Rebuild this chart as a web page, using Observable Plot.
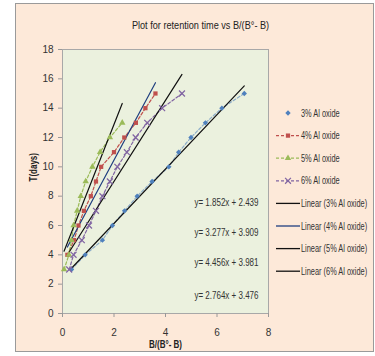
<!DOCTYPE html>
<html><head><meta charset="utf-8">
<script src="https://cdn.jsdelivr.net/npm/d3@7"></script>
<script src="https://cdn.jsdelivr.net/npm/@observablehq/plot@0.6"></script>
<style>
html,body{margin:0;padding:0;background:#fff;}
#wrap{position:relative;width:375px;height:356px;overflow:hidden;font-family:"Liberation Sans",Arial,sans-serif;}
#frame{position:absolute;left:15px;top:3px;width:357px;height:347px;background:#fde9d9;border:1px solid #9a9a9a;}
#chart{position:absolute;left:0;top:0;}
#legend{position:absolute;left:0;top:0;}
</style></head><body>
<div id="wrap"><div id="frame"></div><div id="chart"></div><svg id="legend" width="375" height="356"></svg></div>
<script>
// ---- data ----
const title = "Plot for retention time vs B/(B°- B)";
const xLabel = "B/(B°- B)";
const yLabel = "T(days)";
const seriesNames = ["3% Al oxide", "4% Al oxide", "5% Al oxide", "6% Al oxide"];
const x3 = [0.35, 0.88, 1.55, 1.94, 2.41, 2.90, 3.48, 4.13, 4.51, 4.99, 5.55, 6.19, 7.06];
const y3 = [3, 4, 5, 6, 7, 8, 9, 10, 11, 12, 13, 14, 15];
const x4 = [0.19, 0.45, 0.62, 0.83, 1.10, 1.30, 1.50, 2.00, 2.40, 2.85, 3.22, 3.61];
const y4 = [4, 5, 6, 7, 8, 9, 10, 11, 12, 13, 14, 15];
const x5 = [0.06, 0.25, 0.35, 0.43, 0.57, 0.71, 0.90, 1.16, 1.46, 1.84, 2.32];
const y5 = [3, 4, 5, 6, 7, 8, 9, 10, 11, 12, 13];
const x6 = [0.26, 0.43, 0.75, 1.03, 1.30, 1.55, 1.84, 2.13, 2.50, 2.84, 3.29, 3.87, 4.64];
const y6 = [3, 4, 5, 6, 7, 8, 9, 10, 11, 12, 13, 14, 15];
const slopes = [1.852, 3.277, 4.456, 2.764];
const intercepts = [2.439, 3.909, 3.981, 3.476];
const xTicks = [0, 2, 4, 6, 8];
const yTicks = [0, 2, 4, 6, 8, 10, 12, 14, 16, 18];

// ---- styles ----
const colors = ["#4F81BD", "#C0504D", "#9BBB59", "#8064A2"];
const symbols = ["diamond2", "square", "triangle", "times"];
const trendColors = ["#111", "#1F3F7F", "#111", "#111"];
const FONT = '"Liberation Sans",Arial,sans-serif';
const eqDy = [153, 183, 213, 246];

const xs = [x3, x4, x5, x6], ys = [y3, y4, y5, y6];
const series = seriesNames.map((name, i) => ({
  name, i,
  pts: xs[i].map((x, j) => ({x, y: ys[i][j]})),
  trend: [d3.min(xs[i]), d3.max(xs[i])].map(x => ({x, y: slopes[i] * x + intercepts[i]}))
}));
const eqs = series.map(s => ({
  label: `y= ${slopes[s.i].toFixed(3)}x + ${intercepts[s.i].toFixed(3)}`,
  dy: eqDy[s.i]
}));

const marks = [
  Plot.frame({fill: "#ebf1de", stroke: "#a8a8a8"}),
  Plot.axisX(xTicks, {tickSize: 4, tickPadding: 11, label: null, stroke: "#999", fontSize: 10}),
  Plot.axisY(yTicks, {tickSize: 4, tickPadding: 5, label: null, stroke: "#999", fontSize: 10}),
];
series.forEach(s => {
  marks.push(Plot.line(s.pts, {x: "x", y: "y", stroke: colors[s.i], strokeWidth: 1.2, strokeDasharray: "3,2", strokeOpacity: s.i === 0 ? 0.6 : 1}));
});
series.forEach(s => {
  marks.push(Plot.line(s.trend, {x: "x", y: "y", stroke: trendColors[s.i], strokeWidth: 1.2}));
});
series.forEach(s => {
  const isTimes = symbols[s.i] === "times";
  marks.push(Plot.dot(s.pts, {
    x: "x", y: "y", symbol: symbols[s.i], r: isTimes ? 2.8 : 2.4,
    fill: isTimes ? "none" : colors[s.i], stroke: isTimes ? colors[s.i] : "none", strokeWidth: 1.2
  }));
});
eqs.forEach(e => {
  marks.push(Plot.text([e.label], {frameAnchor: "top-right", lineAnchor: "middle", dx: -10, dy: e.dy, textAnchor: "end", fontSize: 10, fill: "#333", className: "narrow"}));
});
marks.push(Plot.text([title], {frameAnchor: "top", lineAnchor: "middle", dx: 35, dy: -24, fontSize: 10.5, fill: "#222", className: "title"}));
marks.push(Plot.text([xLabel], {frameAnchor: "bottom", lineAnchor: "middle", dy: 31, fontSize: 10, fill: "#222", fontWeight: "bold", className: "narrow"}));
marks.push(Plot.text([yLabel], {frameAnchor: "left", lineAnchor: "middle", dx: -29, rotate: -90, fontSize: 10, fill: "#222", fontWeight: "bold", className: "narrow"}));

const chart = Plot.plot({
  width: 375, height: 356,
  marginLeft: 62, marginRight: 107, marginTop: 49, marginBottom: 43,
  x: {domain: [0, 8]},
  y: {domain: [0, 18]},
  style: {background: "transparent", color: "#333", fontFamily: FONT, fontSize: "10px", overflow: "visible"},
  marks
});
document.getElementById("chart").appendChild(chart);

// condense text (the reference uses a narrow face)
function condense(sel, k) {
  sel.forEach(t => {
    const L = t.getComputedTextLength();
    if (L > 0) { t.setAttribute("textLength", (L * k).toFixed(1)); t.setAttribute("lengthAdjust", "spacingAndGlyphs"); }
  });
}
condense(chart.querySelectorAll(".narrow text"), 0.8);
condense(chart.querySelectorAll(".title text"), 0.87);

// ---- legend ----
const lg = d3.select("#legend").style("font-family", FONT);
const items = [
  ...seriesNames.map((n, i) => ({label: n, color: colors[i], symbol: symbols[i], dashed: i > 0, marker: true})),
  ...seriesNames.map((n, i) => ({label: `Linear (${n})`, color: trendColors[i], dashed: false, marker: false, line: true}))
];
const symMap = {diamond2: d3.symbolDiamond2, square: d3.symbolSquare, triangle: d3.symbolTriangle, times: d3.symbolTimes};
items.forEach((it, k) => {
  const y = 113 + k * 22.6;
  const g = lg.append("g");
  if (it.dashed || it.line) {
    g.append("line").attr("x1", 276).attr("x2", 300).attr("y1", y).attr("y2", y)
      .attr("stroke", it.color).attr("stroke-width", 1.3)
      .attr("stroke-dasharray", it.dashed ? "3,2" : null);
  }
  if (it.marker) {
    const isTimes = it.symbol === "times";
    g.append("path").attr("transform", `translate(288,${y})`)
      .attr("d", d3.symbol(symMap[it.symbol], isTimes ? 24 : 18)())
      .attr("fill", isTimes ? "none" : it.color)
      .attr("stroke", isTimes ? it.color : "none").attr("stroke-width", 1.2);
  }
  g.append("text").attr("transform", `translate(301,${y}) scale(0.74,1)`).attr("dy", "0.35em")
    .attr("font-size", 10).attr("fill", "#333").text(it.label);
});
</script>
</body></html>
